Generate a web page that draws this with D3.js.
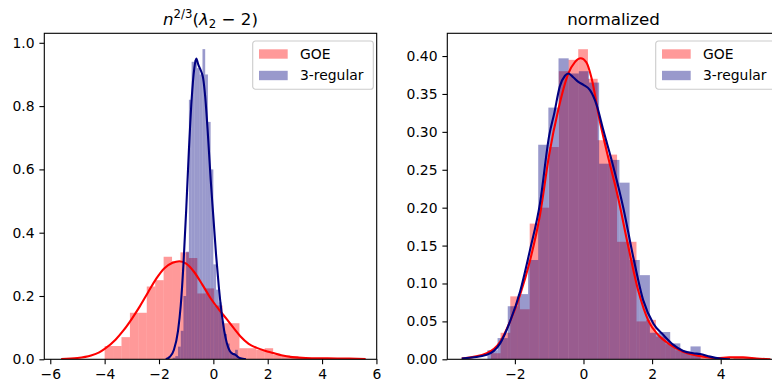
<!DOCTYPE html>
<html>
<head>
<meta charset="utf-8">
<script src="https://cdn.jsdelivr.net/npm/d3@7"></script>
<style>
  body { margin: 0; background: #fff; }
  svg { display: block; font-family: "DejaVu Sans", sans-serif; }
</style>
</head>
<body>
<div id="graph"></div>
<script>
// values
const seriesNames = ["GOE", "3-regular"];

// left panel: n^{2/3}(lambda_2 - 2), density histograms + kde
const goeRawEdges = [-4.00, -3.69, -3.38, -3.07, -2.76, -2.45, -2.14, -1.83, -1.52, -1.21, -0.90,
    -0.59, -0.28, 0.03, 0.34, 0.65, 0.96, 1.27, 1.58, 1.89, 2.20, 2.51, 2.82, 3.13, 3.44,
    3.75, 4.06, 4.37, 4.68, 4.99, 5.30, 5.61];
const goeRawDensity = [0.042, 0.042, 0.07, 0.147, 0.147, 0.23, 0.25, 0.324, 0.31, 0.338, 0.32,
    0.208, 0.224, 0.17, 0.114, 0.114, 0.035, 0.035, 0.03, 0.035, 0.015, 0.012, 0.01, 0.006,
    0.003, 0.003, 0, 0.003, 0, 0, 0.003];
const goeRawKde = [[-5.6, 0.001], [-5.0, 0.004], [-4.5, 0.012], [-4.2, 0.022], [-4.0, 0.033],
    [-3.6, 0.062], [-3.3, 0.092], [-3.0, 0.128], [-2.7, 0.168], [-2.4, 0.212], [-2.1, 0.255],
    [-1.8, 0.288], [-1.5, 0.305], [-1.25, 0.31], [-1.0, 0.302], [-0.7, 0.275], [-0.4, 0.235],
    [-0.1, 0.193], [0.2, 0.158], [0.5, 0.126], [0.8, 0.093], [1.0, 0.072], [1.3, 0.049],
    [1.6, 0.036], [1.9, 0.027], [2.2, 0.02], [2.5, 0.013], [2.9, 0.007], [3.4, 0.004],
    [4.2, 0.003], [5.0, 0.002], [5.6, 0.001]];

const regRawEdges = [-1.5, -1.4, -1.3, -1.2, -1.1, -1.0, -0.9, -0.8, -0.7, -0.6, -0.5, -0.4,
    -0.3, -0.2, -0.1, 0.0, 0.1, 0.2, 0.3, 0.4, 0.5, 0.6, 0.7, 0.8, 0.9, 1.0];
const regRawDensity = [0.005, 0.01, 0.04, 0.09, 0.2, 0.34, 0.82, 0.94, 0.945, 0.92, 0.9, 0.98,
    0.9, 0.75, 0.6, 0.3, 0.22, 0.18, 0.12, 0.08, 0.05, 0.02, 0.015, 0.03, 0.005];
const regRawKde = [[-1.75, 0.0], [-1.6, 0.008], [-1.45, 0.03], [-1.3, 0.09], [-1.2, 0.17],
    [-1.1, 0.3], [-1.0, 0.47], [-0.9, 0.66], [-0.8, 0.82], [-0.7, 0.92], [-0.63, 0.95],
    [-0.55, 0.93], [-0.45, 0.91], [-0.38, 0.89], [-0.3, 0.83], [-0.2, 0.71], [-0.1, 0.57],
    [0.0, 0.45], [0.1, 0.33], [0.2, 0.23], [0.3, 0.15], [0.4, 0.09], [0.5, 0.05], [0.6, 0.027],
    [0.7, 0.018], [0.8, 0.015], [0.9, 0.008], [1.0, 0.003], [1.2, 0.0]];

const rawXTicks = [-6, -4, -2, 0, 2, 4, 6];
const rawYTicks = [0, 0.2, 0.4, 0.6, 0.8, 1.0];

// right panel: normalized
const goeNormEdges = [-2.700, -2.417, -2.134, -1.851, -1.568, -1.285, -1.002, -0.719, -0.436,
    -0.153, 0.130, 0.413, 0.696, 0.979, 1.262, 1.545, 1.828, 2.111, 2.394, 2.677, 2.960,
    3.243, 3.526, 3.809, 4.092, 4.375, 4.658, 4.941];
const goeNormDensity = [0.008, 0.035, 0.083, 0.066, 0.179, 0.2, 0.28, 0.38, 0.395, 0.409, 0.37,
    0.289, 0.27, 0.155, 0.155, 0.05, 0.052, 0.03, 0.02, 0.012, 0.008, 0.005, 0.003, 0, 0,
    0.003, 0.003];
const goeNormKde = [[-3.55, 0.001], [-2.82, 0.008], [-2.43, 0.023], [-2.14, 0.05], [-1.85, 0.085],
    [-1.56, 0.13], [-1.27, 0.19], [-1.0, 0.27], [-0.73, 0.33], [-0.44, 0.377], [-0.25, 0.392],
    [-0.08, 0.397], [0.08, 0.392], [0.24, 0.37], [0.45, 0.32], [0.7, 0.27], [1.0, 0.215],
    [1.3, 0.15], [1.6, 0.09], [1.9, 0.05], [2.2, 0.031], [2.5, 0.02], [2.9, 0.01], [3.2, 0.006],
    [3.5, 0.0035], [3.9, 0.0015], [4.25, 0.0025], [4.65, 0.0025], [5.05, 0.001], [5.45, 0.0]];

const regNormEdges = [-2.800, -2.504, -2.208, -1.912, -1.616, -1.320, -1.024, -0.728, -0.432,
    -0.136, 0.160, 0.456, 0.752, 1.048, 1.344, 1.640, 1.936, 2.232, 2.528, 2.824, 3.120, 3.416];
const regNormDensity = [0.012, 0.028, 0.07, 0.086, 0.131, 0.283, 0.332, 0.397, 0.377, 0.38,
    0.365, 0.258, 0.263, 0.233, 0.131, 0.111, 0.035, 0.036, 0.021, 0.01, 0.017];
const regNormKde = [[-3.55, 0.001], [-2.82, 0.006], [-2.43, 0.021], [-2.14, 0.05], [-1.85, 0.089],
    [-1.56, 0.144], [-1.27, 0.205], [-1.0, 0.295], [-0.85, 0.325], [-0.69, 0.36], [-0.54, 0.374],
    [-0.44, 0.377], [-0.3, 0.372], [-0.15, 0.366], [0.0, 0.362], [0.19, 0.355], [0.38, 0.336],
    [0.58, 0.302], [0.87, 0.254], [1.16, 0.2], [1.45, 0.135], [1.74, 0.078], [2.04, 0.047],
    [2.33, 0.032], [2.62, 0.019], [2.91, 0.011], [3.2, 0.008], [3.4, 0.007], [3.69, 0.0035],
    [3.98, 0.001], [4.27, 0.0]];

const normXTicks = [-2, 0, 2, 4];
const normYTicks = [0, 0.05, 0.10, 0.15, 0.20, 0.25, 0.30, 0.35, 0.40];

// ---- drawing ----
const width = 772;
const height = 383;
const fs = 13.9;
const colors = ["red", "navy"];

const svg = d3.select("#graph")
    .append("svg")
        .attr("width", width)
        .attr("height", height);

function histBins(edges, dens) {
    return dens.map((d, i) => ({ x0: edges[i], x1: edges[i + 1], y: d }));
}

function drawPanel(p) {
    const x = d3.scaleLinear().domain(p.xDomain).range([p.left, p.right]);
    const y = d3.scaleLinear().domain(p.yDomain).range([p.bottom, p.top]);

    const clipId = "clip" + p.id;
    svg.append("clipPath").attr("id", clipId)
        .append("rect")
            .attr("x", p.left).attr("y", p.top)
            .attr("width", p.right - p.left).attr("height", p.bottom - p.top);

    const plot = svg.append("g").attr("clip-path", `url(#${clipId})`);

    // histograms first (patches sit under lines)
    p.hists.forEach((h, i) => {
        plot.append("g").selectAll("rect")
            .data(histBins(h.edges, h.density).filter(b => b.y > 0))
            .join("rect")
                .attr("x", b => x(b.x0))
                .attr("width", b => x(b.x1) - x(b.x0))
                .attr("y", b => y(b.y))
                .attr("height", b => y(0) - y(b.y))
                .attr("fill", colors[i])
                .attr("fill-opacity", 0.4);
    });

    const line = d3.line()
        .x(d => x(d[0]))
        .y(d => y(d[1]))
        .curve(d3.curveMonotoneX);

    p.kdes.forEach((k, i) => {
        plot.append("path")
            .datum(k)
            .attr("d", line)
            .attr("fill", "none")
            .attr("stroke", colors[i])
            .attr("stroke-width", 2.1)
            .attr("stroke-linejoin", "round");
    });

    // axes
    const xAxis = svg.append("g")
        .attr("transform", `translate(0,${p.bottom})`)
        .call(d3.axisBottom(x).tickValues(p.xTicks).tickFormat(d3.format("d"))
            .tickSize(4.9).tickPadding(4.9).tickSizeOuter(0));
    const yAxis = svg.append("g")
        .attr("transform", `translate(${p.left},0)`)
        .call(d3.axisLeft(y).tickValues(p.yTicks).tickFormat(d3.format(p.yFmt))
            .tickSize(4.9).tickPadding(4.9).tickSizeOuter(0));

    [xAxis, yAxis].forEach(a => {
        a.select(".domain").remove();
        a.selectAll(".tick line").attr("stroke", "#000").attr("stroke-width", 1.1);
        a.selectAll(".tick text")
            .attr("fill", "#000")
            .style("font-family", "DejaVu Sans")
            .style("font-size", fs + "px");
    });

    // spines
    svg.append("rect")
        .attr("x", p.left).attr("y", p.top)
        .attr("width", p.right - p.left).attr("height", p.bottom - p.top)
        .attr("fill", "none")
        .attr("stroke", "#000")
        .attr("stroke-width", 1.1);

    // legend, upper right
    const lw = 120.6, lh = 48.3;
    const lx = p.right - 3.4 - lw, ly = p.top + 7.7;
    const leg = svg.append("g").attr("transform", `translate(${lx},${ly})`);
    leg.append("rect")
        .attr("width", lw).attr("height", lh)
        .attr("rx", 2.8)
        .attr("fill", "#fff").attr("fill-opacity", 0.8)
        .attr("stroke", "#cccccc").attr("stroke-width", 1.1);
    seriesNames.forEach((name, i) => {
        const row = leg.append("g").attr("transform", `translate(0,${8.3 + i * 21.5})`);
        row.append("rect")
            .attr("x", 6.3).attr("y", 0)
            .attr("width", 28.7).attr("height", 9.4)
            .attr("fill", colors[i]).attr("fill-opacity", 0.4);
        row.append("text")
            .attr("x", 47.3).attr("y", 9.3)
            .style("font-size", fs + "px")
            .attr("fill", "#000")
            .text(name);
    });

    // title
    const t = svg.append("text")
        .attr("x", (p.left + p.right) / 2)
        .attr("y", p.top - 8.3)
        .attr("text-anchor", "middle")
        .attr("fill", "#000")
        .style("font-size", "16.7px");
    p.title(t);
}

drawPanel({
    id: "L",
    left: 44.3, right: 376.7, top: 33.3, bottom: 359.3,
    xDomain: [-6.22, 6.01], yDomain: [0, 1.03],
    xTicks: rawXTicks, yTicks: rawYTicks, yFmt: ".1f",
    hists: [{ edges: goeRawEdges, density: goeRawDensity },
            { edges: regRawEdges, density: regRawDensity }],
    kdes: [goeRawKde, regRawKde],
    title: t => {
        t.append("tspan").style("font-style", "italic").text("n");
        t.append("tspan").attr("dy", -7).style("font-size", "11.7px").text("2/3");
        t.append("tspan").attr("dy", 7).text("(");
        t.append("tspan").style("font-style", "italic").text("λ");
        t.append("tspan").attr("dy", 3.2).style("font-size", "11.7px").text("2");
        t.append("tspan").attr("dy", -3.2).text(" − 2)");
    }
});

drawPanel({
    id: "R",
    left: 447.3, right: 779.7, top: 33.3, bottom: 359.3,
    xDomain: [-3.97, 5.72], yDomain: [0, 0.43],
    xTicks: normXTicks, yTicks: normYTicks, yFmt: ".2f",
    hists: [{ edges: goeNormEdges, density: goeNormDensity },
            { edges: regNormEdges, density: regNormDensity }],
    kdes: [goeNormKde, regNormKde],
    title: t => t.text("normalized")
});
</script>
</body>
</html>
